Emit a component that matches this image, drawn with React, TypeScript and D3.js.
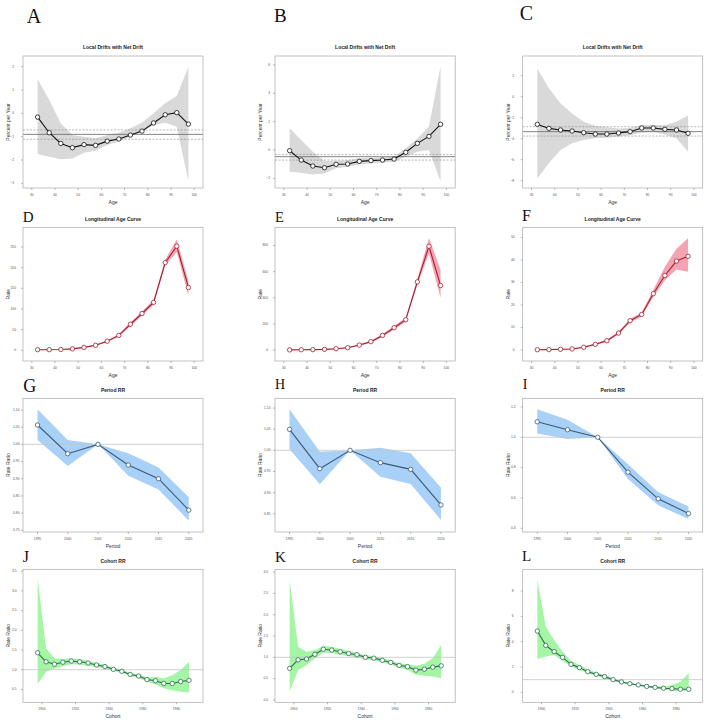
import * as d3 from "d3";
import React from "react";

// x positions: age groups, calendar periods, birth cohorts
const ages = [32.5, 37.5, 42.5, 47.5, 52.5, 57.5, 62.5, 67.5, 72.5, 77.5, 82.5, 87.5, 92.5, 97.5];
const periods = [1995, 2000, 2005, 2010, 2015, 2020];
const cohorts = [
  1897.5, 1902.5, 1907.5, 1912.5, 1917.5, 1922.5, 1927.5, 1932.5, 1937.5, 1942.5,
  1947.5, 1952.5, 1957.5, 1962.5, 1967.5, 1972.5, 1977.5, 1982.5, 1987.5,
];

const ageTicks = [30, 40, 50, 60, 70, 80, 90, 100];
const periodTicks = [1995, 2000, 2005, 2010, 2015, 2020];
const cohortTicks = [1900, 1920, 1940, 1960, 1980];

// local drifts (% per year) with net drift
const driftA = [-0.16, -0.83, -1.29, -1.47, -1.34, -1.37, -1.19, -1.1, -0.93, -0.76, -0.41, -0.06, 0.03, -0.46];
const driftAHi = [1.46, 0.57, -0.43, -0.93, -1.0, -1.07, -0.93, -0.83, -0.64, -0.4, 0.0, 0.43, 0.74, 2.0];
const driftALo = [-1.74, -1.86, -1.97, -1.93, -1.69, -1.6, -1.36, -1.21, -1.0, -0.79, -0.5, -0.4, -0.57, -2.9];
const netA = [-0.9, -1.11, -0.71];

const driftB = [-0.05, -0.71, -1.13, -1.25, -1.01, -0.99, -0.8, -0.75, -0.71, -0.64, -0.16, 0.47, 0.96, 1.81];
const driftBHi = [1.53, 0.7, -0.12, -0.78, -0.75, -0.72, -0.58, -0.55, -0.52, -0.45, 0.12, 0.82, 1.65, 5.9];
const driftBLo = [-1.53, -1.6, -1.72, -1.65, -1.29, -1.18, -1.03, -0.94, -0.89, -0.82, -0.47, -0.12, 0.0, -2.2];
const netB = [-0.47, -0.71, -0.31];

const driftC = [-2.63, -3.02, -3.17, -3.27, -3.43, -3.56, -3.56, -3.46, -3.33, -2.98, -2.98, -3.11, -3.17, -3.49];
const driftCHi = [2.7, 0.8, -0.63, -1.59, -2.38, -2.76, -2.92, -3.02, -2.95, -2.7, -2.7, -2.7, -2.38, -1.8];
const driftCLo = [-7.8, -6.35, -5.08, -4.44, -4.13, -3.97, -3.9, -3.81, -3.65, -3.4, -3.35, -3.6, -3.97, -5.24];
const netC = [-3.33, -3.75, -2.86];

// longitudinal age curves (rate)
const rateD = [1.5, 1.5, 2, 3.5, 7, 12, 22, 36, 63, 89, 116, 212, 252, 152];
const rateDHi = [2, 2, 2.5, 4.5, 8, 13.5, 24, 39, 67, 94, 122, 219, 268, 168];
const rateDLo = [1, 1, 1.5, 2.5, 6, 10.5, 20, 33, 59, 84, 110, 205, 238, 132];

const rateE = [1, 2, 3, 5, 10, 18, 38, 64, 112, 171, 232, 522, 795, 494];
const rateEHi = [2, 3, 4, 7, 13, 22, 44, 72, 122, 184, 248, 545, 858, 615];
const rateELo = [0.5, 1, 2, 3, 7, 14, 32, 56, 102, 158, 216, 500, 740, 398];

const rateF = [0.1, 0.15, 0.3, 0.45, 1.2, 2.5, 4.1, 7.5, 13, 15.8, 25, 33.1, 39.5, 41.6];
const rateFHi = [0.2, 0.3, 0.5, 0.7, 1.5, 2.9, 4.6, 8.1, 13.8, 16.8, 26.6, 37, 45, 49.6];
const rateFLo = [0.05, 0.08, 0.15, 0.3, 0.9, 2.1, 3.6, 6.9, 12.2, 14.9, 23.5, 31, 35.8, 34.8];

// period rate ratios
const periodG = [1.0563, 0.9728, 1.0, 0.9398, 0.9, 0.8087];
const periodGHi = [1.102, 1.0126, 1.0, 0.974, 0.933, 0.846];
const periodGLo = [1.0126, 0.937, 1.0, 0.909, 0.869, 0.778];

const periodH = [1.0496, 0.9567, 1.0, 0.9709, 0.9551, 0.8709];
const periodHHi = [1.097, 0.9969, 1.0, 1.0063, 0.993, 0.9118];
const periodHLo = [1.0024, 0.9197, 1.0, 0.9378, 0.9205, 0.8354];

const periodI = [1.102, 1.05, 1.0, 0.77, 0.594, 0.497];
const periodIHi = [1.184, 1.115, 1.0, 0.822, 0.638, 0.544];
const periodILo = [1.024, 0.989, 1.0, 0.724, 0.551, 0.46];

// cohort rate ratios
const cohortJ = [1.43, 1.2, 1.14, 1.19, 1.22, 1.2, 1.17, 1.12, 1.08, 1.01, 0.96, 0.88, 0.84, 0.75, 0.72, 0.65, 0.65, 0.7, 0.73];
const cohortJHi = [3.3, 1.54, 1.29, 1.27, 1.29, 1.27, 1.23, 1.17, 1.13, 1.05, 1.0, 0.92, 0.88, 0.8, 0.82, 0.78, 0.86, 0.99, 1.2];
const cohortJLo = [0.64, 0.95, 1.03, 1.09, 1.14, 1.13, 1.1, 1.06, 1.03, 0.97, 0.92, 0.84, 0.79, 0.7, 0.63, 0.53, 0.48, 0.44, 0.42];

const cohortK = [0.74, 0.94, 0.96, 1.07, 1.19, 1.17, 1.13, 1.09, 1.06, 1.0, 0.98, 0.93, 0.88, 0.81, 0.78, 0.7, 0.72, 0.77, 0.8];
const cohortKHi = [2.81, 1.25, 1.13, 1.17, 1.27, 1.25, 1.2, 1.15, 1.11, 1.05, 1.03, 0.98, 0.93, 0.86, 0.84, 0.8, 0.85, 0.98, 1.29];
const cohortKLo = [0.2, 0.7, 0.82, 0.98, 1.11, 1.1, 1.06, 1.03, 1.0, 0.95, 0.93, 0.88, 0.83, 0.75, 0.71, 0.59, 0.57, 0.55, 0.51];

const cohortL = [4.84, 3.71, 3.21, 2.76, 2.21, 1.95, 1.63, 1.42, 1.24, 1.0, 0.82, 0.68, 0.58, 0.47, 0.39, 0.32, 0.29, 0.24, 0.24];
const cohortLHi = [8.87, 5.18, 4.13, 3.2, 2.5, 2.15, 1.8, 1.56, 1.36, 1.1, 0.9, 0.75, 0.65, 0.54, 0.47, 0.45, 0.58, 0.84, 1.5];
const cohortLLo = [2.63, 2.82, 2.95, 2.5, 2.03, 1.78, 1.48, 1.3, 1.13, 0.91, 0.74, 0.61, 0.51, 0.4, 0.32, 0.23, 0.13, 0.1, 0.13];

const themes = {
  drift: { band: "#d9d9d9", line: "#111111", point: "#111111" },
  age: { band: "#f4a3b3", line: "#a51f2f", point: "#a51f2f" },
  period: { band: "#a9d1f7", line: "#3c5a74", point: "#3c5a74" },
  cohort: { band: "#a4f5a4", line: "#2e6d55", point: "#2e6d55" },
};

const SANS = "'Liberation Sans', Arial, sans-serif";
const SERIF = "'Liberation Serif', 'Times New Roman', serif";

const rows = [
  { top: 56, bottom: 188 },
  { top: 227.3, bottom: 361 },
  { top: 398.3, bottom: 532 },
  { top: 569.3, bottom: 702.3 },
];
const cols = [
  { left: 23, right: 203 },
  { left: 275, right: 455.2 },
  { left: 522.7, right: 702.7 },
];

const ageDomain = [26.2, 103.8];
const periodDomain = [1992.6, 2022.35];
const cohortDomain = [1888.8, 1995.8];

const driftTitle = "Local Drifts with Net Drift";
const ageTitle = "Longitudinal Age Curve";

const panels = [
  { letter: "A", lx: 26.7, ly: 22.7, ls: 20, row: 0, col: 0, kind: "drift", title: driftTitle, xs: ages, xd: ageDomain, xt: ageTicks, xl: "Age", yl: "Percent per Year", yd: [-3.2, 2.46], yt: [-3, -2, -1, 0, 1, 2], dec: 0, gap: 9, est: driftA, hi: driftAHi, lo: driftALo, net: netA },
  { letter: "B", lx: 274, ly: 21.7, ls: 19, row: 0, col: 1, kind: "drift", title: driftTitle, xs: ages, xd: ageDomain, xt: ageTicks, xl: "Age", yl: "Percent per Year", yd: [-2.68, 6.63], yt: [-2, 0, 2, 4, 6], dec: 0, gap: 5, est: driftB, hi: driftBHi, lo: driftBLo, net: netB },
  { letter: "C", lx: 519.7, ly: 20, ls: 20, row: 0, col: 2, kind: "drift", title: driftTitle, xs: ages, xd: ageDomain, xt: ageTicks, xl: "Age", yl: "Percent per Year", yd: [-8.7, 3.88], yt: [-8, -6, -4, -2, 0, 2], dec: 0, gap: 8.5, est: driftC, hi: driftCHi, lo: driftCLo, net: netC },
  { letter: "D", lx: 22.7, ly: 222.3, ls: 15, row: 1, col: 0, kind: "age", title: ageTitle, xs: ages, xd: ageDomain, xt: ageTicks, xl: "Age", yl: "Rate", yd: [-25.9, 297.6], yt: [0, 50, 100, 150, 200, 250], dec: 0, gap: 7, est: rateD, hi: rateDHi, lo: rateDLo },
  { letter: "E", lx: 275, ly: 221.7, ls: 14.5, row: 1, col: 1, kind: "age", title: ageTitle, xs: ages, xd: ageDomain, xt: ageTicks, xl: "Age", yl: "Rate", yd: [-84, 940], yt: [0, 200, 400, 600, 800], dec: 0, gap: 7, est: rateE, hi: rateEHi, lo: rateELo },
  { letter: "F", lx: 522, ly: 221, ls: 16, row: 1, col: 2, kind: "age", title: ageTitle, xs: ages, xd: ageDomain, xt: ageTicks, xl: "Age", yl: "Rate", yd: [-4.9, 54.5], yt: [0, 10, 20, 30, 40, 50], dec: 0, gap: 8, est: rateF, hi: rateFHi, lo: rateFLo },
  { letter: "G", lx: 23.3, ly: 392.3, ls: 18, row: 2, col: 0, kind: "period", title: "Period RR", xs: periods, xd: periodDomain, xt: periodTicks, xl: "Period", yl: "Rate Ratio", yd: [0.745, 1.134], yt: [0.75, 0.8, 0.85, 0.9, 0.95, 1.0, 1.05, 1.1], dec: 2, gap: 3.5, est: periodG, hi: periodGHi, lo: periodGLo, ref: 1 },
  { letter: "H", lx: 275, ly: 389.3, ls: 14, row: 2, col: 1, kind: "period", title: "Period RR", xs: periods, xd: periodDomain, xt: periodTicks, xl: "Period", yl: "Rate Ratio", yd: [0.807, 1.123], yt: [0.85, 0.9, 0.95, 1.0, 1.05, 1.1], dec: 2, gap: 4.5, est: periodH, hi: periodHHi, lo: periodHLo, ref: 1 },
  { letter: "I", lx: 522.7, ly: 389, ls: 14, row: 2, col: 2, kind: "period", title: "Period RR", xs: periods, xd: periodDomain, xt: periodTicks, xl: "Period", yl: "Rate Ratio", yd: [0.375, 1.257], yt: [0.4, 0.6, 0.8, 1.0, 1.2], dec: 1, gap: 7, est: periodI, hi: periodIHi, lo: periodILo, ref: 1 },
  { letter: "J", lx: 22.7, ly: 562.3, ls: 16, row: 3, col: 0, kind: "cohort", title: "Cohort RR", xs: cohorts, xd: cohortDomain, xt: cohortTicks, xl: "Cohort", yl: "Rate Ratio", yd: [0.173, 3.548], yt: [0.5, 1.0, 1.5, 2.0, 2.5, 3.0, 3.5], dec: 1, gap: 6.3, est: cohortJ, hi: cohortJHi, lo: cohortJLo, ref: 1 },
  { letter: "K", lx: 275, ly: 561.7, ls: 15, row: 3, col: 1, kind: "cohort", title: "Cohort RR", xs: cohorts, xd: cohortDomain, xt: cohortTicks, xl: "Cohort", yl: "Rate Ratio", yd: [-0.056, 3.066], yt: [0, 0.5, 1.0, 1.5, 2.0, 2.5, 3.0], dec: 1, gap: 7, est: cohortK, hi: cohortKHi, lo: cohortKLo, ref: 1 },
  { letter: "L", lx: 522, ly: 560.7, ls: 15, row: 3, col: 2, kind: "cohort", title: "Cohort RR", xs: cohorts, xd: cohortDomain, xt: cohortTicks, xl: "Cohort", yl: "Rate Ratio", yd: [-0.79, 9.72], yt: [0, 2, 4, 6, 8], dec: 0, gap: 9, est: cohortL, hi: cohortLHi, lo: cohortLLo, ref: 1 },
];

type Pt = { x: number; y: number; lo: number; hi: number };

function Panel({ p }: { p: any }) {
  const { left, right } = cols[p.col];
  const { top, bottom } = rows[p.row];
  const theme = themes[p.kind as keyof typeof themes];
  const x = d3.scaleLinear().domain(p.xd).range([left, right]);
  const y = d3.scaleLinear().domain(p.yd).range([bottom, top]);

  const pts: Pt[] = p.xs.map((v: number, i: number) => ({ x: v, y: p.est[i], lo: p.lo[i], hi: p.hi[i] }));
  const band = d3.area<Pt>().x((d) => x(d.x)).y0((d) => y(d.lo)).y1((d) => y(d.hi));
  const line = d3.line<Pt>().x((d) => x(d.x)).y((d) => y(d.y));
  const fmt = d3.format(`.${p.dec}f`);
  const cx = (left + right) / 2;
  const cy = (top + bottom) / 2;
  const clipId = `clip-${p.letter}`;

  return (
    <g>
      <text x={p.lx} y={p.ly} fontFamily={SERIF} fontSize={p.ls} fill="#111">{p.letter}</text>
      <text x={cx} y={top - 8} textAnchor="middle" dominantBaseline="middle" fontFamily={SANS} fontWeight="bold" fontSize={5} fill="#222">{p.title}</text>

      <defs>
        <clipPath id={clipId}>
          <rect x={left} y={top} width={right - left} height={bottom - top} />
        </clipPath>
      </defs>

      <g clipPath={`url(#${clipId})`}>
        <path d={band(pts) ?? ""} fill={theme.band} stroke="none" />
        {p.ref !== undefined && (
          <line x1={left} x2={right} y1={y(p.ref)} y2={y(p.ref)} stroke="#c4c4c4" strokeWidth={0.8} />
        )}
        {p.net && (
          <g>
            <line x1={left} x2={right} y1={y(p.net[0])} y2={y(p.net[0])} stroke="#666" strokeWidth={0.8} />
            <line x1={left} x2={right} y1={y(p.net[1])} y2={y(p.net[1])} stroke="#888" strokeWidth={0.6} strokeDasharray="2,1.5" />
            <line x1={left} x2={right} y1={y(p.net[2])} y2={y(p.net[2])} stroke="#888" strokeWidth={0.6} strokeDasharray="2,1.5" />
          </g>
        )}
      </g>

      <path d={line(pts) ?? ""} fill="none" stroke={theme.line} strokeWidth={1.1} />
      {pts.map((d, i) => (
        <circle key={i} cx={x(d.x)} cy={y(d.y)} r={2.2} fill="#fff" stroke={theme.point} strokeWidth={0.8} />
      ))}

      <rect x={left} y={top} width={right - left} height={bottom - top} fill="none" stroke="#a8a8a8" strokeWidth={0.7} />

      {p.yt.map((t: number) => (
        <g key={`y${t}`}>
          <line x1={left - 2} x2={left} y1={y(t)} y2={y(t)} stroke="#777" strokeWidth={0.5} />
          <text x={left - p.gap} y={y(t)} textAnchor="end" dominantBaseline="middle" fontFamily={SANS} fontSize={3.3} fill="#555">{fmt(t)}</text>
        </g>
      ))}
      {p.xt.map((t: number) => (
        <g key={`x${t}`}>
          <line x1={x(t)} x2={x(t)} y1={bottom} y2={bottom + 2} stroke="#777" strokeWidth={0.5} />
          <text x={x(t)} y={bottom + 7} textAnchor="middle" dominantBaseline="middle" fontFamily={SANS} fontSize={3.3} fill="#555">{t}</text>
        </g>
      ))}

      <text x={cx} y={bottom + 14.5} textAnchor="middle" dominantBaseline="middle" fontFamily={SANS} fontSize={5} fill="#333">{p.xl}</text>
      <text transform={`translate(${left - 14},${cy}) rotate(-90)`} textAnchor="middle" dominantBaseline="middle" fontFamily={SANS} fontSize={5} fill="#333">{p.yl}</text>
    </g>
  );
}

export default function App() {
  return (
    <svg width={708} height={722} style={{ position: "absolute", left: 0, top: 0, background: "#fff" }}>
      <rect width={708} height={722} fill="#fff" />
      {panels.map((p) => (
        <Panel key={p.letter} p={p} />
      ))}
    </svg>
  );
}
